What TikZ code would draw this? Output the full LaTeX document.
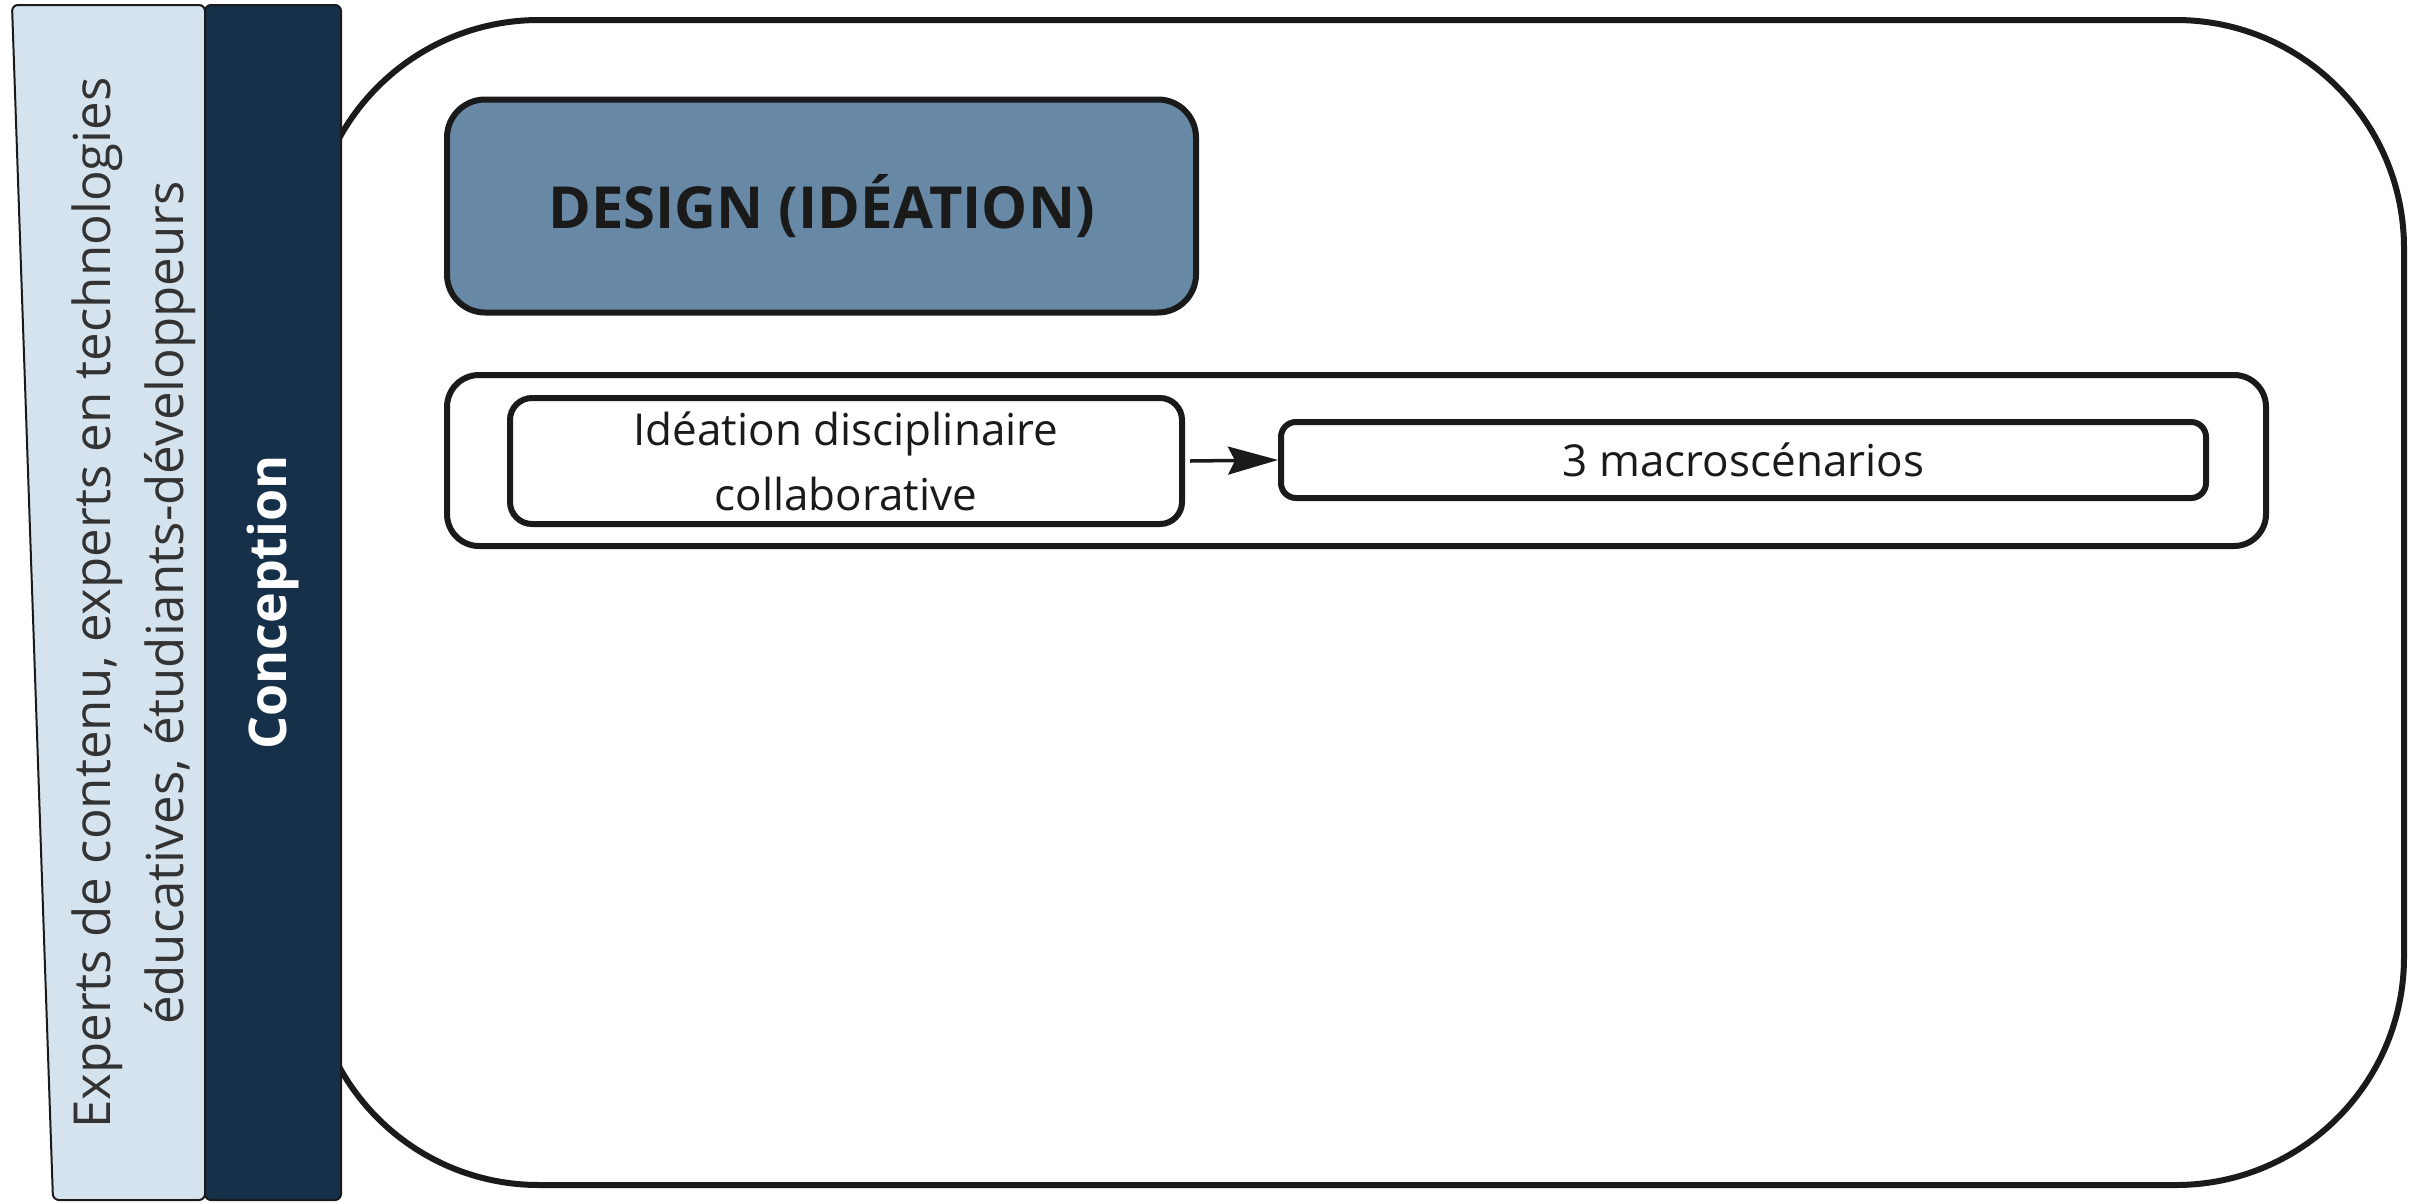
\documentclass[tikz,border=0pt]{standalone}
\usepackage{fontspec}
\setmainfont{Open Sans}
\usetikzlibrary{arrows.meta}
\definecolor{ink}{HTML}{1A1A1A}
\definecolor{paletxt}{HTML}{333333}
\definecolor{palepanel}{HTML}{D5E3EF}
\definecolor{navypanel}{HTML}{17304A}
\definecolor{steel}{HTML}{6789A6}
\begin{document}
\begin{tikzpicture}[x=1pt,y=-1pt,
  frame/.style={draw=ink, line width=6pt, fill=white},
  stagebox/.style={frame, rounded corners=228pt, minimum width=2093pt, minimum height=1165pt},
  titlebox/.style={draw=ink, line width=6pt, fill=steel, rounded corners=38pt,
    minimum width=749pt, minimum height=213pt, font=\fontsize{58}{66}\selectfont\bfseries, text=ink},
  groupbox/.style={frame, rounded corners=32pt, minimum width=1819pt, minimum height=171pt},
  taskbox/.style={frame, rounded corners=22pt, align=center, text=ink,
    font=\fontsize{44}{65}\selectfont},
  flow/.style={draw=ink, line width=3.5pt, -{Stealth[length=50pt,width=28pt,inset=7pt]}}]
\useasboundingbox (0,0) rectangle (2417,1203);

% main stage outline
\node[stagebox] (stage) at (1357.5,602.5) {};

% header of the stage
\node[titlebox] (design) at (821.5,206) {DESIGN (IDÉATION)};

% group holding the two steps
\node[groupbox] (group) at (1356.5,460.5) {};
\node[taskbox, minimum width=672pt, minimum height=126pt] (ideation) at (846,461)
  {Idéation disciplinaire\\collaborative};
\node[taskbox, rounded corners=15pt, minimum width=925pt, minimum height=76pt] (macro) at (1743.5,460)
  {3 macroscénarios};
\draw[flow] (ideation.east) ++(5pt,0) -- (macro.west);

% side labels
\draw[draw=ink, line width=2pt, fill=palepanel, rounded corners=6pt]
  (12,5) -- (205,5) -- (205,1200) -- (53,1200) -- cycle;
\node[text=paletxt, rotate=90, align=center, font=\fontsize{51}{73}\selectfont] (actors) at (133.5,603)
  {Experts de contenu, experts en technologies\\éducatives, étudiants-développeurs};
\node[draw=ink, line width=2pt, fill=navypanel, rounded corners=6pt,
  minimum width=136pt, minimum height=1195pt] (phase) at (273,602.5) {};
\node[text=white, rotate=90, font=\fontsize{52}{60}\selectfont\bfseries] (phaselbl) at (phase.center) {Conception};
\end{tikzpicture}
\end{document}
